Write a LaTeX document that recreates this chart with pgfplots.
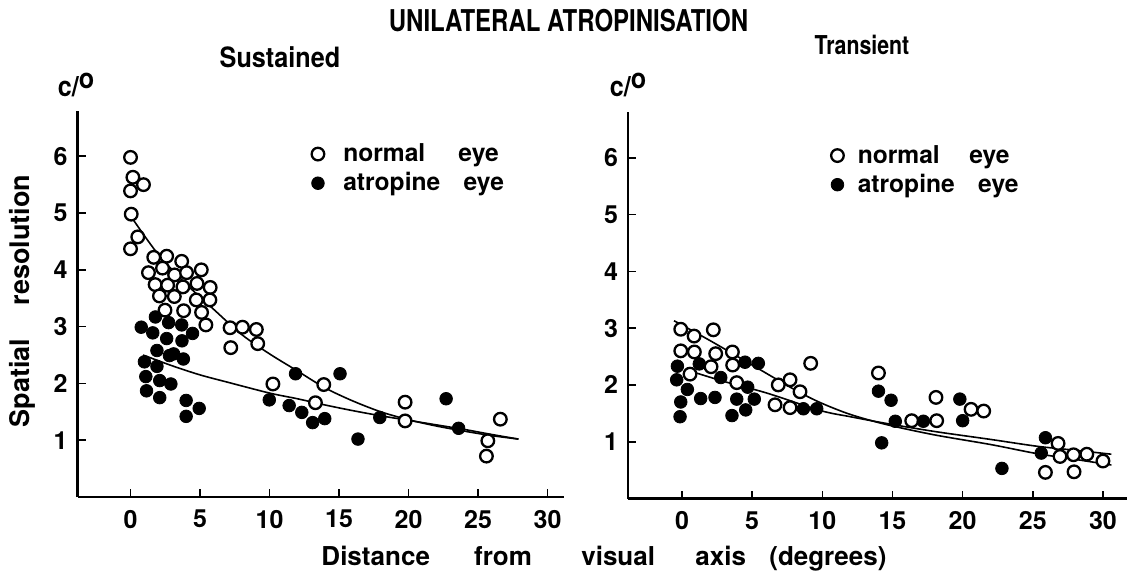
\documentclass[border=0pt]{standalone}
\usepackage{pgfplots}
\pgfplotsset{compat=1.18}
\usepackage{pgfplotstable}
\usepackage{graphicx}
\usepackage{fontspec}
\setmainfont{TeX Gyre Heros}

\pgfplotstableread{
x y
0 5.98
0.17 5.63
0.93 5.50
0 5.39
0.05 4.98
0.52 4.58
0 4.37
1.67 4.22
2.6 4.24
3.68 4.15
2.3 4.03
3.17 3.91
4.03 3.95
5.09 4.0
1.29 3.95
1.77 3.74
2.67 3.73
3.77 3.70
4.78 3.76
5.73 3.69
2.08 3.54
3.15 3.53
4.73 3.47
5.71 3.47
2.48 3.29
3.82 3.28
5.11 3.25
5.42 3.03
7.16 2.98
8.05 2.99
9.05 2.95
7.21 2.63
9.15 2.70
10.24 1.99
13.9 1.98
13.3 1.66
19.75 1.67
19.75 1.34
26.6 1.37
25.7 0.99
25.6 0.72
}\leftnormal

\pgfplotstableread{
x y
0.77 2.99
1.79 3.17
2.74 3.07
3.68 3.03
1.6 2.89
4.46 2.88
2.6 2.79
3.7 2.75
1.9 2.58
3.1 2.52
1.0 2.38
2.8 2.49
1.9 2.30
3.8 2.43
1.1 2.12
2.1 2.05
2.9 1.99
1.15 1.87
2.1 1.75
4.0 1.70
4.94 1.56
4.0 1.42
9.98 1.71
11.41 1.61
11.87 2.17
12.32 1.49
13.1 1.31
13.97 1.38
15.07 2.17
16.36 1.02
17.93 1.40
22.7 1.73
23.6 1.21
}\leftatro

\pgfplotstableread{
x y
0.2 4.88
2 4.27
4 3.75
6 3.30
8 2.86
10 2.52
12 2.22
14 1.92
16 1.69
18 1.50
20 1.36
22 1.25
24 1.16
26 1.08
27.9 1.02
}\leftfitA

\pgfplotstableread{
x y
0.9 2.50
3 2.31
5 2.15
7 2.02
10 1.83
12 1.73
14 1.62
16 1.52
18 1.43
20 1.35
22 1.27
24 1.19
26 1.10
27.9 1.02
}\leftfitB

\pgfplotstableread{
x y
-0.09 2.98
0.86 2.86
2.23 2.97
-0.09 2.60
0.88 2.58
2.4 2.55
3.59 2.58
2.07 2.32
3.61 2.35
0.57 2.19
3.9 2.04
6.86 2.00
7.7 2.09
8.41 1.88
9.17 2.38
6.63 1.65
7.7 1.60
14.0 2.21
18.1 1.78
20.6 1.57
21.5 1.54
16.37 1.37
18.15 1.37
26.8 0.97
26.94 0.74
27.9 0.77
28.85 0.78
30.0 0.66
25.9 0.46
27.94 0.47
}\rightnormal

\pgfplotstableread{
x y
-0.33 2.33
-0.38 2.09
1.23 2.37
0.38 1.92
-0.09 1.70
-0.14 1.44
1.33 1.76
2.35 1.78
2.76 2.13
4.49 2.40
5.44 2.38
4.68 1.96
3.9 1.75
5.15 1.75
3.56 1.46
4.54 1.56
8.65 1.58
9.6 1.58
14.0 1.89
14.9 1.73
14.23 0.98
15.2 1.36
17.2 1.36
19.8 1.75
20.0 1.37
25.9 1.07
25.6 0.80
22.8 0.53
}\rightatro

\pgfplotstableread{
x y
-0.57 3.13
2 2.78
5 2.35
8 1.92
9.84 1.69
12 1.48
14.6 1.30
18 1.12
22 0.95
25.3 0.79
28 0.69
30.6 0.59
}\rightfitA

\pgfplotstableread{
x y
0.38 2.26
3 2.06
6 1.86
9.84 1.55
12 1.44
14.6 1.32
18 1.18
22 1.04
25.3 0.92
28 0.85
30.6 0.78
}\rightfitB

\pgfplotsset{
  panel/.style={
    scale only axis,
    axis x line*=bottom, axis y line*=left,
    axis line style={line width=1.4pt,-},
    tick align=inside,
    major tick length=4pt,
    tick style={line width=0.8pt, black},
    ymin=0, ymax=6.8,
    ytick={1,2,3,4,5,6}, xtick={0,5,10,15,20,25,30},
    tick label style={font=\fontsize{12.5}{14}\selectfont\bfseries},
    /pgf/number format/assume math mode=true,
    xticklabel style={yshift=-3pt},
    yticklabel style={xshift=-1.5pt},
    clip=false,
    legend cell align=left,
    legend style={draw=none, fill=none, font=\fontsize{12.3}{14}\selectfont\bfseries,
      row sep=0pt, inner sep=0pt},
  },
  onorm/.style={only marks, mark=*, mark size=3.15pt, mark options={draw=black, fill=white, line width=1.15pt}},
  oatro/.style={only marks, mark=*, mark size=3.15pt, mark options={draw=black, fill=black}},
  fit/.style={black, line width=0.8pt, smooth, no marks},
}

\begin{document}
\begin{tikzpicture}
\useasboundingbox (0,0) rectangle (568.5pt,287.5pt);

\begin{axis}[panel, at={(38.85pt,39pt)}, anchor=south west,
  width=243.3pt, height=193.1pt, xmin=-3.8, xmax=31.2,
  legend style={at={(axis cs:13.0,6.3)}, anchor=north west}]
\addplot[fit, forget plot] table {\leftfitA};
\addplot[fit, forget plot] table {\leftfitB};
\addplot[onorm] table {\leftnormal};
\addlegendentry{\hspace{7.5pt}normal\hspace{1.35em}eye}
\addplot[oatro] table {\leftatro};
\addlegendentry{\hspace{7.5pt}atropine\hspace{0.95em}eye}
\end{axis}

\begin{axis}[panel, at={(314pt,38.25pt)}, anchor=south west,
  width=249.4pt, height=193.1pt, xmin=-3.85, xmax=31.7,
  legend style={at={(axis cs:10.6,6.3)}, anchor=north west}]
\addplot[fit, forget plot] table {\rightfitA};
\addplot[fit, forget plot] table {\rightfitB};
\addplot[onorm] table {\rightnormal};
\addlegendentry{\hspace{5pt}normal\hspace{1.2em}eye}
\addplot[oatro] table {\rightatro};
\addlegendentry{\hspace{5pt}atropine\hspace{0.95em}eye}
\end{axis}

\node[font=\fontsize{15}{17}\selectfont\bfseries] at (284.25pt,277pt) {\scalebox{0.8}[1]{UNILATERAL ATROPINISATION}};
\node[font=\fontsize{14}{16}\selectfont\bfseries] at (140pt,259pt) {\scalebox{0.9}[1]{Sustained}};
\node[font=\fontsize{13}{15}\selectfont\bfseries] at (431pt,265pt) {\scalebox{0.82}[1]{Transient}};
\node[font=\fontsize{14}{16}\selectfont\bfseries] at (38pt,245pt) {\scalebox{0.9}[1]{c/\raisebox{0.5ex}{o}}};
\node[font=\fontsize{14}{16}\selectfont\bfseries] at (314pt,245pt) {\scalebox{0.9}[1]{c/\raisebox{0.5ex}{o}}};
\node[font=\fontsize{13.5}{16}\selectfont\bfseries, rotate=90] at (11pt,137pt) {Spatial\hspace{1.25em}resolution};
\node[font=\fontsize{13}{15}\selectfont\bfseries] at (302pt,8pt) {Distance\hspace{1.7em}from\hspace{1.9em}visual\hspace{1.55em}axis\hspace{0.9em}(degrees)};
\end{tikzpicture}
\end{document}
